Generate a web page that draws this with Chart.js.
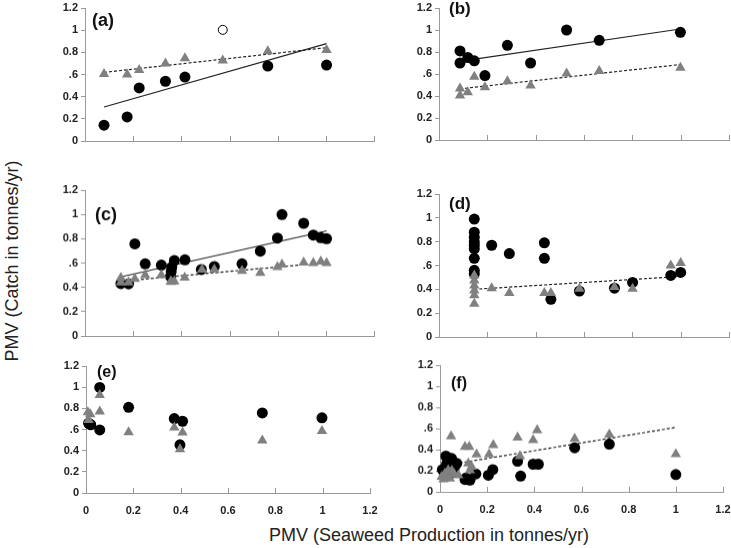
<!DOCTYPE html>
<html>
<head>
<meta charset="utf-8">
<script src="https://cdn.jsdelivr.net/npm/chart.js@4/dist/chart.umd.min.js"></script>
<style>
  body { margin: 0; background: #fff; width: 731px; height: 548px; position: relative; overflow: hidden;
         font-family: "Liberation Sans", Arial, sans-serif; }
  canvas { position: absolute; }
  #ytitle { position: absolute; left: 12px; top: 261px; transform: translate(-50%, -50%) rotate(-90deg);
            white-space: nowrap; font-size: 18px; color: #222; }
  #xtitle { position: absolute; left: 429px; top: 535px; transform: translate(-50%, -50%);
            white-space: nowrap; font-size: 18px; color: #222; }
</style>
</head>
<body>
<div id="ytitle">PMV (Catch in tonnes/yr)</div>
<div id="xtitle">PMV (Seaweed Production in tonnes/yr)</div>
<script>
// tick labels
var xTickLabels = ['0', '0.2', '0.4', '0.6', '0.8', '1', '1.2'];
var yTickLabels = ['0', '0.2', '0.4', '.6', '0.8', '1', '1.2'];

// (a)
var aCircleX = [0.079, 0.175, 0.225, 0.334, 0.415, 0.759, 1.003];
var aCircleY = [0.143, 0.217, 0.479, 0.539, 0.577, 0.676, 0.685];
var aOpenX = [0.572];
var aOpenY = [1.003];
var aTriX = [0.079, 0.175, 0.225, 0.334, 0.415, 0.572, 0.759, 1.003];
var aTriY = [0.604, 0.60, 0.64, 0.70, 0.747, 0.726, 0.81, 0.82];
var aSolidX = [0.079, 1.003];
var aSolidY = [0.307, 0.878];
var aDashX = [0.079, 1.003];
var aDashY = [0.619, 0.842];

// (b)
var bCircleX = [0.087, 0.087, 0.119, 0.146, 0.19, 0.283, 0.379, 0.528, 0.663, 0.999];
var bCircleY = [0.81, 0.70, 0.75, 0.72, 0.586, 0.861, 0.70, 1.0, 0.906, 0.979];
var bTriX = [0.087, 0.087, 0.119, 0.146, 0.19, 0.283, 0.379, 0.528, 0.663, 0.999];
var bTriY = [0.468, 0.405, 0.435, 0.574, 0.48, 0.535, 0.495, 0.604, 0.628, 0.656];
var bSolidX = [0.127, 0.999];
var bSolidY = [0.728, 1.009];
var bDashX = [0.087, 0.999];
var bDashY = [0.465, 0.686];

// (c)
var cCircleX = [0.149, 0.181, 0.207, 0.25, 0.317, 0.355, 0.358, 0.36, 0.371, 0.415, 0.483, 0.537, 0.652, 0.728, 0.799, 0.818, 0.908, 0.948, 0.979, 1.003];
var cCircleY = [0.431, 0.429, 0.758, 0.593, 0.583, 0.49, 0.53, 0.566, 0.62, 0.626, 0.547, 0.572, 0.593, 0.698, 0.805, 0.999, 0.927, 0.83, 0.808, 0.80];
var cTriX = [0.149, 0.149, 0.181, 0.207, 0.25, 0.317, 0.356, 0.359, 0.371, 0.414, 0.486, 0.537, 0.652, 0.728, 0.799, 0.818, 0.908, 0.948, 0.979, 1.003];
var cTriY = [0.478, 0.44, 0.44, 0.47, 0.50, 0.50, 0.45, 0.445, 0.45, 0.48, 0.547, 0.547, 0.535, 0.52, 0.566, 0.588, 0.605, 0.60, 0.613, 0.60];
var cSolidX = [0.149, 1.003];
var cSolidY = [0.486, 0.865];
var cDashX = [0.149, 1.003];
var cDashY = [0.45, 0.604];

// (d)
var dCircleX = [0.146, 0.146, 0.146, 0.146, 0.146, 0.146, 0.146, 0.146, 0.146, 0.218, 0.291, 0.436, 0.436, 0.463, 0.581, 0.726, 0.801, 0.959, 1.0];
var dCircleY = [0.99, 0.88, 0.838, 0.80, 0.77, 0.74, 0.66, 0.56, 0.53, 0.77, 0.70, 0.79, 0.66, 0.316, 0.385, 0.41, 0.458, 0.517, 0.542];
var dTriX = [0.146, 0.146, 0.146, 0.146, 0.146, 0.146, 0.218, 0.291, 0.436, 0.463, 0.581, 0.726, 0.801, 0.959, 1.0];
var dTriY = [0.517, 0.475, 0.433, 0.39, 0.35, 0.28, 0.41, 0.37, 0.37, 0.37, 0.405, 0.42, 0.405, 0.60, 0.62];
var dDashX = [0.146, 1.0];
var dDashY = [0.40, 0.508];

// (e)
var eCircleX = [0.011, 0.02, 0.058, 0.058, 0.18, 0.373, 0.408, 0.397, 0.745, 0.997];
var eCircleY = [0.659, 0.645, 0.998, 0.596, 0.81, 0.703, 0.678, 0.455, 0.757, 0.71];
var eTriX = [0.008, 0.018, 0.011, 0.058, 0.058, 0.18, 0.373, 0.408, 0.397, 0.745, 0.997];
var eTriY = [0.763, 0.745, 0.69, 0.926, 0.769, 0.574, 0.619, 0.571, 0.414, 0.496, 0.587];

// (f)
var fCircleX = [0.01, 0.025, 0.028, 0.045, 0.049, 0.042, 0.02, 0.071, 0.035, 0.06, 0.106, 0.11, 0.12, 0.127, 0.152, 0.205, 0.224, 0.329, 0.342, 0.395, 0.417, 0.571, 0.718, 1.0];
var fCircleY = [0.21, 0.338, 0.262, 0.30, 0.316, 0.174, 0.17, 0.269, 0.24, 0.22, 0.117, 0.13, 0.117, 0.111, 0.17, 0.158, 0.21, 0.29, 0.149, 0.262, 0.262, 0.417, 0.452, 0.164];
var fTriX = [0.007, 0.015, 0.021, 0.03, 0.035, 0.042, 0.05, 0.06, 0.047, 0.078, 0.106, 0.124, 0.12, 0.127, 0.134, 0.155, 0.208, 0.226, 0.329, 0.339, 0.395, 0.412, 0.571, 0.718, 1.0];
var fTriY = [0.142, 0.12, 0.174, 0.15, 0.205, 0.127, 0.20, 0.17, 0.527, 0.158, 0.426, 0.426, 0.269, 0.205, 0.237, 0.354, 0.354, 0.442, 0.515, 0.338, 0.49, 0.584, 0.502, 0.543, 0.357];
var fDashX = [0.02, 1.0];
var fDashY = [0.25, 0.61];

function xy(xs, ys) {
  return xs.map(function (x, i) { return { x: x, y: ys[i] }; });
}

// draws the inward x tick marks and the panel letter
var panelExtras = {
  id: 'panelExtras',
  afterDraw: function (chart, args, opts) {
    var ctx = chart.ctx, area = chart.chartArea, xs = chart.scales.x;
    ctx.save();
    ctx.strokeStyle = '#999';
    ctx.lineWidth = 1;
    xs.ticks.forEach(function (t) {
      if (t.value === 0) return;
      var px = Math.round(xs.getPixelForValue(t.value)) + 0.5;
      ctx.beginPath();
      ctx.moveTo(px, area.bottom);
      ctx.lineTo(px, area.bottom - 5);
      ctx.stroke();
    });
    ctx.font = 'bold ' + opts.size + 'px "Liberation Sans", Arial, sans-serif';
    ctx.fillStyle = '#111';
    ctx.textBaseline = 'middle';
    ctx.fillText(opts.text, area.left + opts.dx, area.top + opts.dy);
    ctx.restore();
  }
};

var AXW = 45, PT = 12, PR = 8;

function makePanel(p) {
  var xh = p.showX ? 30 : 8;
  var w = (p.x1 - p.x0) + AXW + PR;
  var h = (p.yBot - p.yTop) + PT + xh;
  var cv = document.createElement('canvas');
  cv.width = w; cv.height = h;
  cv.style.left = (p.x0 - AXW) + 'px';
  cv.style.top = (p.yTop - PT) + 'px';
  cv.style.width = w + 'px'; cv.style.height = h + 'px';
  document.body.appendChild(cv);

  var datasets = [];
  datasets.push({ data: xy(p.triX, p.triY), pointStyle: 'triangle', pointRadius: 6,
    pointBackgroundColor: '#808080', pointBorderWidth: 0, showLine: false, clip: false });
  datasets.push({ data: xy(p.circleX, p.circleY), pointStyle: 'circle', pointRadius: 5.5,
    pointBackgroundColor: '#000', pointBorderWidth: 0, showLine: false, clip: false });
  if (p.openX) {
    datasets.push({ data: xy(p.openX, p.openY), pointStyle: 'circle', pointRadius: 4.5,
      pointBackgroundColor: '#fff', pointBorderColor: '#000', pointBorderWidth: 1, showLine: false, clip: false });
  }
  if (p.solidX) {
    datasets.push({ data: xy(p.solidX, p.solidY), showLine: true, borderColor: '#222', borderWidth: 1.2,
      pointRadius: 0, clip: false });
  }
  if (p.dashX) {
    datasets.push({ data: xy(p.dashX, p.dashY), showLine: true, borderColor: '#222', borderWidth: 1.2,
      borderDash: [3, 2], pointRadius: 0, clip: false });
  }

  new Chart(cv.getContext('2d'), {
    type: 'scatter',
    data: { datasets: datasets },
    options: {
      responsive: false,
      animation: false,
      devicePixelRatio: 1,
      layout: { padding: { left: 0, top: PT, right: PR, bottom: 0 } },
      scales: {
        x: {
          type: 'linear', min: 0, max: 1.2,
          afterFit: function (s) { s.height = xh; s.paddingLeft = 0; s.paddingRight = 0; },
          border: { color: '#999' },
          grid: { drawOnChartArea: false, drawTicks: false },
          ticks: {
            display: p.showX, stepSize: 0.2, padding: 11, color: '#222',
            font: { family: '"Liberation Sans", Arial, sans-serif', size: 11, weight: 'bold' },
            maxRotation: 0,
            callback: function (v) { return xTickLabels[Math.round(v * 5)]; }
          }
        },
        y: {
          type: 'linear', min: 0, max: 1.2,
          afterFit: function (s) { s.width = AXW; s.paddingTop = 0; s.paddingBottom = 0; },
          border: { color: '#999' },
          grid: { drawOnChartArea: false, drawTicks: true, tickLength: 4, color: '#999' },
          ticks: {
            stepSize: 0.2, padding: 3, color: '#222',
            font: { family: '"Liberation Sans", Arial, sans-serif', size: 11, weight: 'bold' },
            callback: function (v) { return yTickLabels[Math.round(v * 5)]; }
          }
        }
      },
      plugins: {
        legend: { display: false },
        tooltip: { enabled: false },
        panelExtras: { text: p.label, dx: p.ldx, dy: p.ldy, size: p.lsize }
      }
    },
    plugins: [panelExtras]
  });
}

makePanel({ label: '(a)', lsize: 18, ldx: 7, ldy: 13.5, x0: 85, x1: 374, yTop: 7.5, yBot: 141, showX: false,
  circleX: aCircleX, circleY: aCircleY, openX: aOpenX, openY: aOpenY, triX: aTriX, triY: aTriY,
  solidX: aSolidX, solidY: aSolidY, dashX: aDashX, dashY: aDashY });
makePanel({ label: '(b)', lsize: 17, ldx: 10, ldy: 1, x0: 439, x1: 729, yTop: 8.3, yBot: 140.3, showX: false,
  circleX: bCircleX, circleY: bCircleY, triX: bTriX, triY: bTriY,
  solidX: bSolidX, solidY: bSolidY, dashX: bDashX, dashY: bDashY });
makePanel({ label: '(c)', lsize: 18, ldx: 10, ldy: 25.5, x0: 85, x1: 374, yTop: 190, yBot: 335.7, showX: false,
  circleX: cCircleX, circleY: cCircleY, triX: cTriX, triY: cTriY,
  solidX: cSolidX, solidY: cSolidY, dashX: cDashX, dashY: cDashY });
makePanel({ label: '(d)', lsize: 17, ldx: 10, ldy: 10.5, x0: 439, x1: 729, yTop: 193.5, yBot: 336.7, showX: false,
  circleX: dCircleX, circleY: dCircleY, triX: dTriX, triY: dTriY,
  dashX: dDashX, dashY: dDashY });
makePanel({ label: '(e)', lsize: 16, ldx: 11, ldy: 7, x0: 85.7, x1: 370, yTop: 366, yBot: 493.3, showX: true,
  circleX: eCircleX, circleY: eCircleY, triX: eTriX, triY: eTriY });
makePanel({ label: '(f)', lsize: 16, ldx: 11, ldy: 19, x0: 440, x1: 723, yTop: 365, yBot: 491.7, showX: true,
  circleX: fCircleX, circleY: fCircleY, triX: fTriX, triY: fTriY,
  dashX: fDashX, dashY: fDashY });
</script>
</body>
</html>
